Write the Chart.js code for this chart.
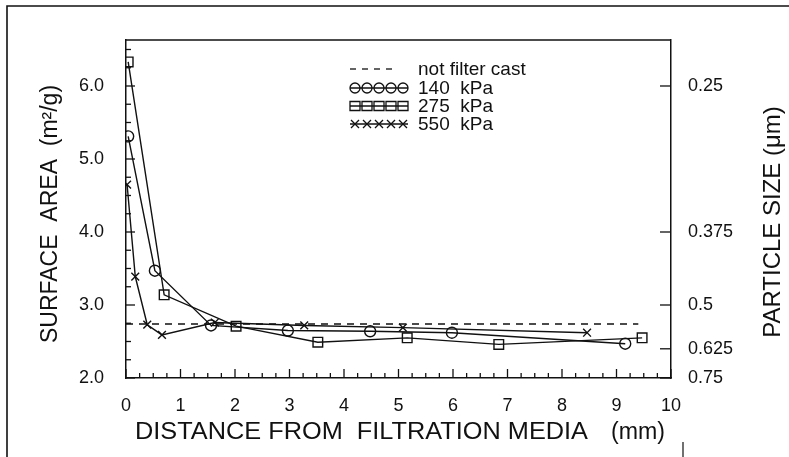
<!DOCTYPE html>
<html><head><meta charset="utf-8">
<script src="https://cdn.jsdelivr.net/npm/chart.js@4.4.1/dist/chart.umd.min.js"></script>
<style>html,body{margin:0;padding:0;background:#fff}#wrap{width:789px;height:457px;position:relative}</style>
</head><body><div id="wrap"><canvas id="c"></canvas></div>
<script>
// ---- data ----
const xTickValues = [0,1,2,3,4,5,6,7,8,9,10];
const yLeftTickValues = [2,3,4,5,6];
const particleSizeLabels = ['0.25','0.375','0.5','0.625','0.75'];
const particleSizeAtSurfaceArea = [6.0, 4.0, 3.0, 2.4, 2.0];

const distNotCast = [0, 9.4];
const saNotCast   = [2.74, 2.74];
const dist140 = [0.04, 0.53, 1.56, 2.97, 4.48, 5.98, 9.16];
const sa140   = [5.31, 3.47, 2.72, 2.65, 2.64, 2.62, 2.47];
const dist275 = [0.04, 0.70, 2.02, 3.52, 5.16, 6.84, 9.47];
const sa275   = [6.33, 3.14, 2.71, 2.49, 2.55, 2.46, 2.55];
const dist550 = [0.02, 0.17, 0.39, 0.66, 1.63, 3.27, 5.08, 8.46];
const sa550   = [4.65, 3.39, 2.73, 2.59, 2.76, 2.72, 2.69, 2.62];

const legendLabels = ['not filter cast', '140  kPa', '275  kPa', '550  kPa'];
const xTitle = 'DISTANCE FROM  FILTRATION MEDIA';
const xUnit = '(mm)';
const yTitle = 'SURFACE  AREA  (m\u00B2/g)';
const y2Title = 'PARTICLE SIZE (\u03BCm)';

const pts = (xs, ys) => xs.map((x, i) => ({x, y: ys[i]}));
const INK = '#111111';
const FONT = "'Liberation Sans', Arial, Helvetica, sans-serif";

function fitText(ctx, text, x, y, width) {
  const w = ctx.measureText(text).width;
  ctx.save(); ctx.translate(x, y); ctx.scale(width / w, 1);
  ctx.textAlign = 'left'; ctx.fillText(text, 0, 0); ctx.restore();
}

const tickPlugin = {
  id: 'decor',
  afterDraw(chart) {
    const ctx = chart.ctx, a = chart.chartArea;
    const sx = chart.scales.x, sy = chart.scales.y, sy2 = chart.scales.y2;
    ctx.save();
    ctx.strokeStyle = INK; ctx.lineWidth = 1.3;
    // top border of plot
    ctx.beginPath(); ctx.moveTo(a.left, a.top); ctx.lineTo(a.right, a.top); ctx.stroke();
    // x ticks (inward)
    for (let v = 0; v <= 10.001; v += 0.25) {
      const major = Math.abs(v - Math.round(v)) < 1e-6;
      const px = sx.getPixelForValue(v);
      ctx.beginPath(); ctx.moveTo(px, a.bottom); ctx.lineTo(px, a.bottom - (major ? 9 : 5)); ctx.stroke();
    }
    // left y ticks
    for (let v = 2; v <= 6.501; v += 0.25) {
      const major = Math.abs(v - Math.round(v)) < 1e-6;
      const py = sy.getPixelForValue(v);
      ctx.beginPath(); ctx.moveTo(a.left, py); ctx.lineTo(a.left + (major ? 9 : 5), py); ctx.stroke();
    }
    // right y ticks
    particleSizeAtSurfaceArea.forEach(v => {
      const py = sy2.getPixelForValue(v);
      ctx.beginPath(); ctx.moveTo(a.right, py); ctx.lineTo(a.right - 11, py); ctx.stroke();
    });
    // outer frame (left & top)
    ctx.lineWidth = 1.6;
    ctx.beginPath(); ctx.moveTo(7, 457); ctx.lineTo(7, 6); ctx.lineTo(789, 6); ctx.stroke();
    ctx.lineWidth = 1.2;
    ctx.beginPath(); ctx.moveTo(683, 442); ctx.lineTo(683, 457); ctx.stroke();

    // axis titles
    ctx.fillStyle = INK;
    ctx.textBaseline = 'middle';
    ctx.font = '23px ' + FONT;
    fitText(ctx, xTitle, 135, 433, 453);
    fitText(ctx, xUnit, 611, 433, 54);
    ctx.save(); ctx.translate(51, 214); ctx.rotate(-Math.PI / 2);
    ctx.textAlign = 'center'; ctx.fillText(yTitle, 0, 0); ctx.restore();
    ctx.save(); ctx.translate(773, 222); ctx.rotate(-Math.PI / 2);
    ctx.textAlign = 'center'; ctx.font = '24px ' + FONT; ctx.fillText(y2Title, 0, 0); ctx.restore();

    // legend
    const rows = [69, 88, 106, 124];
    const x0 = 350, x1 = 408;
    ctx.font = '19px ' + FONT; ctx.textAlign = 'left';
    rows.forEach((ry, i) => { ctx.fillText(legendLabels[i], 418, ry + 1); });
    ctx.lineWidth = 1.3;
    // dashed sample
    ctx.setLineDash([6, 6]);
    ctx.beginPath(); ctx.moveTo(x0, rows[0]); ctx.lineTo(398, rows[0]); ctx.stroke();
    ctx.setLineDash([]);
    for (let r = 1; r <= 3; r++) {
      const ry = rows[r];
      ctx.beginPath(); ctx.moveTo(x0, ry); ctx.lineTo(x1, ry); ctx.stroke();
      for (let k = 0; k < 5; k++) {
        const cx = x0 + 5 + k * 12;
        ctx.beginPath();
        if (r === 1) { ctx.arc(cx, ry, 5, 0, Math.PI * 2); }
        else if (r === 2) { ctx.rect(cx - 5, ry - 4.5, 10, 9); }
        else { ctx.moveTo(cx - 4, ry - 4); ctx.lineTo(cx + 4, ry + 4); ctx.moveTo(cx + 4, ry - 4); ctx.lineTo(cx - 4, ry + 4); }
        ctx.stroke();
      }
    }
    ctx.restore();
  }
};

const lineStyle = {
  showLine: true, tension: 0, borderColor: INK, borderWidth: 1.4,
  pointBorderColor: INK, pointBackgroundColor: 'rgba(255,255,255,0)', pointBorderWidth: 1.4
};

new Chart(document.getElementById('c'), {
  type: 'scatter',
  data: {
    datasets: [
      Object.assign({}, lineStyle, {label: legendLabels[0], data: pts(distNotCast, saNotCast), borderDash: [7, 6], borderWidth: 1.6, pointRadius: 0}),
      Object.assign({}, lineStyle, {label: legendLabels[1], data: pts(dist140, sa140), pointStyle: 'circle', pointRadius: 5.5}),
      Object.assign({}, lineStyle, {label: legendLabels[2], data: pts(dist275, sa275), pointStyle: 'rect', pointRadius: 6.8}),
      Object.assign({}, lineStyle, {label: legendLabels[3], data: pts(dist550, sa550), pointStyle: 'crossRot', pointRadius: 5.5})
    ]
  },
  options: {
    responsive: true, maintainAspectRatio: false, animation: false,
    layout: {padding: {top: 40, left: 0, right: 0, bottom: 0}},
    plugins: {legend: {display: false}, tooltip: {enabled: false}},
    scales: {
      x: {
        type: 'linear', position: 'bottom', min: 0, max: 10,
        afterBuildTicks: s => { s.ticks = xTickValues.map(v => ({value: v})); },
        afterFit: s => { s.height = 79; },
        grid: {display: false, drawTicks: false},
        border: {display: true, color: INK, width: 1.5},
        ticks: {color: INK, font: {family: FONT, size: 18}, padding: 17, maxRotation: 0, callback: v => String(v)}
      },
      y: {
        type: 'linear', position: 'left', min: 2, max: 6.63,
        afterBuildTicks: s => { s.ticks = yLeftTickValues.map(v => ({value: v})); },
        afterFit: s => { s.width = 126; },
        grid: {display: false, drawTicks: false},
        border: {display: true, color: INK, width: 1.5},
        ticks: {color: INK, font: {family: FONT, size: 18}, padding: 22, callback: v => Number(v).toFixed(1)}
      },
      y2: {
        type: 'linear', position: 'right', min: 2, max: 6.63,
        afterBuildTicks: s => { s.ticks = particleSizeAtSurfaceArea.map(v => ({value: v})); },
        afterFit: s => { s.width = 118; },
        grid: {display: false, drawTicks: false},
        border: {display: true, color: INK, width: 1.5},
        ticks: {color: INK, font: {family: FONT, size: 18}, padding: 17,
          callback: (v, i) => particleSizeLabels[i]}
      }
    }
  },
  plugins: [tickPlugin]
});
</script></body></html>
